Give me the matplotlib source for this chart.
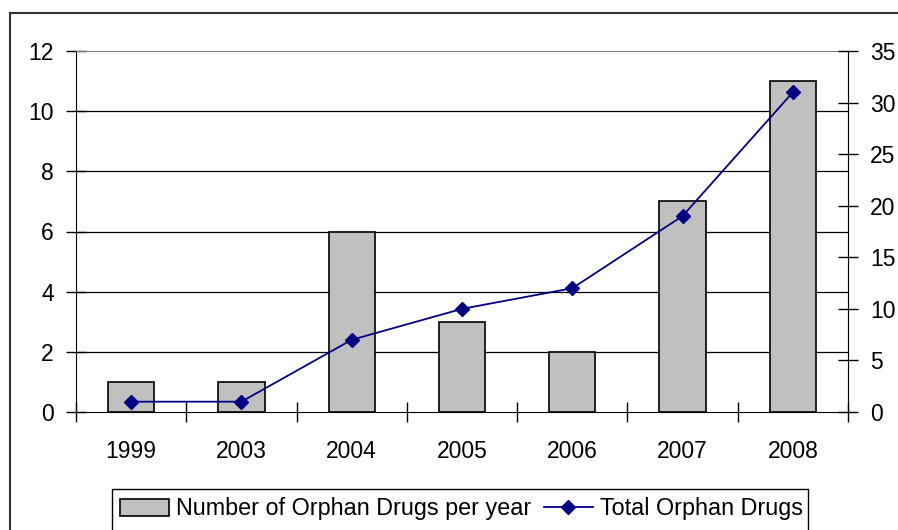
import matplotlib
matplotlib.use("Agg")
import matplotlib.pyplot as plt
import numpy as np
from matplotlib.patches import Rectangle
from matplotlib.lines import Line2D

years = ["1999", "2003", "2004", "2005", "2006", "2007", "2008"]
per_year = [1, 1, 6, 3, 2, 7, 11]
total = [1, 1, 7, 10, 12, 19, 31]
left_ticks = [0, 2, 4, 6, 8, 10, 12]
right_ticks = [0, 5, 10, 15, 20, 25, 30, 35]

plt.rcParams['font.family'] = ['Liberation Sans', 'DejaVu Sans']
FS = 16.5
LFS = 16.8

W, H = 898, 530
fig = plt.figure(figsize=(W / 100, H / 100), dpi=100)

def fx(px):
    return px / W

def fy(py):
    return 1 - py / H

ax = fig.add_axes([fx(76), fy(412), fx(848) - fx(76), fy(51) - fy(412)])
x = np.arange(len(years))
ax.bar(x, per_year, width=0.42, color="#C0C0C0", edgecolor="black", linewidth=1.2, zorder=3)
ax.set_xlim(-0.5, len(years) - 0.5)
ax.set_ylim(0, 12)
ax.set_yticks(left_ticks)
ax.set_yticklabels([str(t) for t in left_ticks], fontsize=FS)
for t in left_ticks[1:-1]:
    ax.axhline(t, color="black", linewidth=0.9, zorder=1)
ax.set_xticks(x)
ax.set_xticklabels(years, fontsize=FS)
ax.set_xticks(np.arange(-0.5, len(years)), minor=True)
ax.tick_params(axis='x', which='major', length=0, pad=20)
ax.tick_params(axis='x', which='minor', length=14, direction='inout', width=1)
ax.tick_params(axis='y', length=14, direction='inout', width=1, pad=9)
ax.spines['top'].set_color("#808080")
ax.spines['right'].set_color("#808080")
ax.spines['left'].set_color("black")
ax.spines['bottom'].set_color("black")

ax2 = ax.twinx()
ax2.plot(x, total, color="#000080", marker="D", markersize=7.5, linewidth=1.3, zorder=4)
ax2.set_ylim(0, 35)
ax2.set_yticks(right_ticks)
ax2.set_yticklabels([str(t) for t in right_ticks], fontsize=FS)
ax2.tick_params(axis='y', length=14, direction='inout', width=1, pad=9)
ax2.spines['right'].set_color("black")
ax2.spines['top'].set_visible(False)
ax2.spines['left'].set_visible(False)
ax2.spines['bottom'].set_visible(False)

# outer chart border
fig.add_artist(Line2D([fx(10), fx(10)], [fy(13), fy(540)], color="#333333", linewidth=1.5))
fig.add_artist(Line2D([fx(10), fx(905)], [fy(13), fy(13)], color="#333333", linewidth=1.5))

# legend box
fig.add_artist(Rectangle((fx(112), fy(540)), fx(808) - fx(112), fy(489) - fy(540),
                         facecolor="none", edgecolor="black", linewidth=1))
handles = [Rectangle((0, 0), 1, 1, facecolor="#C0C0C0", edgecolor="black", linewidth=1.2),
           Line2D([], [], color="#000080", marker="D", markersize=7.5, linewidth=1.3)]
fig.legend(handles, ["Number of Orphan Drugs per year", "Total Orphan Drugs"],
           loc="center left", bbox_to_anchor=(fx(115), fy(509)), ncol=2, frameon=False,
           fontsize=LFS, handlelength=2.1, handletextpad=0.3, columnspacing=0.55,
           borderaxespad=0, borderpad=0.2)

fig.savefig("out.png", dpi=100)
